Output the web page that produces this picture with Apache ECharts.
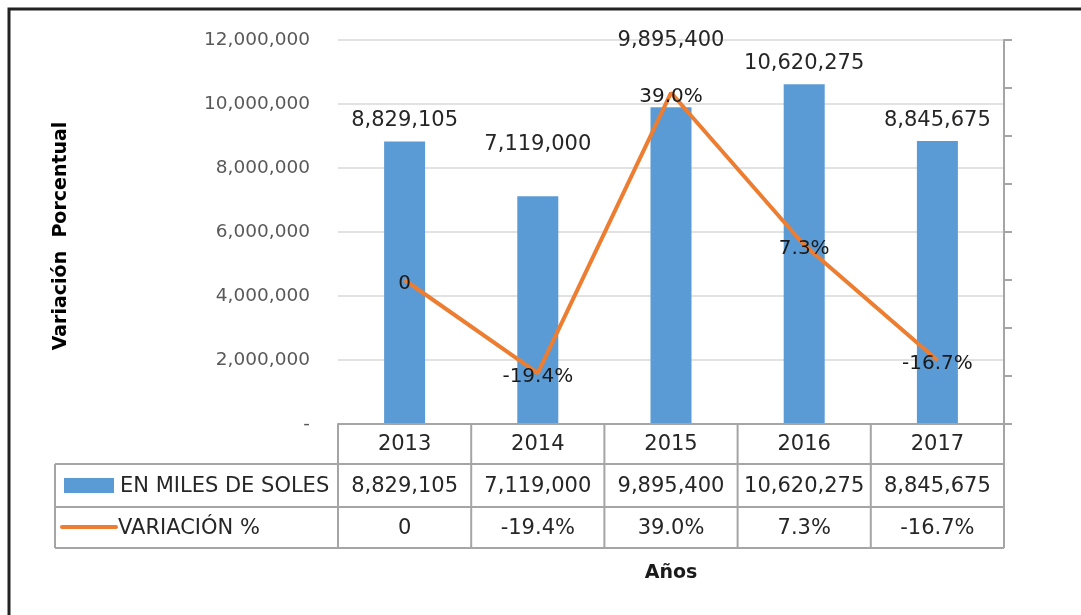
<!DOCTYPE html>
<html>
<head>
<meta charset="utf-8">
<title>Variación Porcentual</title>
<script src="https://cdn.jsdelivr.net/npm/echarts@6/dist/echarts.min.js"></script>
<style>
  html, body { margin: 0; padding: 0; background: #fff; }
  #main { width: 1081px; height: 615px; }
</style>
</head>
<body>
<div id="main"></div>
<script>
// datos
const years = ['2013', '2014', '2015', '2016', '2017']
const solesValues = [8829105, 7119000, 9895400, 10620275, 8845675]
const variationValues = [0, -19.4, 39.0, 7.3, -16.7]
const seriesNames = ['EN MILES DE SOLES', 'VARIACIÓN %']

const FONT = 'DejaVu Sans'
const BLUE = '#5B9BD5'
const ORANGE = '#ED7D31'
const BORDER = '#A5A5A5'
const TEXT = '#262626'

// etiquetas de barras movidas a mano en el original (2014 y 2015)
const barLabelLift = { 1: 31, 2: 46 }

const fmtNum = (v) => v.toLocaleString('en-US')
const fmtPct = (v) => (v === 0 ? '0' : v.toFixed(1) + '%')

const chart = echarts.init(document.getElementById('main'))

chart.setOption({
  animation: false,
  backgroundColor: '#fff',
  textStyle: { fontFamily: FONT },
  grid: { left: 338, right: 77, top: 40, bottom: 191 },
  xAxis: {
    type: 'category',
    data: years,
    axisLine: { onZero: false, lineStyle: { color: BORDER, width: 2 } },
    axisTick: { show: false },
    axisLabel: { show: false }
  },
  yAxis: [
    {
      type: 'value',
      min: 0,
      max: 12000000,
      interval: 2000000,
      axisLine: { show: false },
      axisTick: { show: false },
      axisLabel: {
        fontSize: 18.5,
        color: '#595959',
        margin: 28,
        formatter: (v) => (v === 0 ? '-' : fmtNum(v))
      },
      splitLine: { lineStyle: { color: '#D9D9D9', width: 1.5 } }
    },
    {
      type: 'value',
      min: -30,
      max: 50,
      interval: 10,
      position: 'right',
      axisLine: { show: true, lineStyle: { color: BORDER, width: 2 } },
      axisTick: { show: true, length: 8, lineStyle: { color: BORDER, width: 2 } },
      axisLabel: { show: false },
      splitLine: { show: false }
    }
  ],
  series: [
    {
      name: seriesNames[0],
      type: 'bar',
      data: solesValues.map((v, i) =>
        barLabelLift[i] ? { value: v, label: { offset: [0, -barLabelLift[i]] } } : v
      ),
      barWidth: 41,
      itemStyle: { color: BLUE },
      label: {
        show: true,
        position: 'top',
        distance: 10,
        fontSize: 21,
        color: TEXT,
        formatter: (p) => fmtNum(p.value)
      }
    },
    {
      name: seriesNames[1],
      type: 'line',
      yAxisIndex: 1,
      data: variationValues,
      symbol: 'circle',
      symbolSize: 1,
      showSymbol: true,
      z: 3,
      lineStyle: { color: ORANGE, width: 4 },
      itemStyle: { color: ORANGE },
      label: {
        show: true,
        position: 'inside',
        offset: [0, 4],
        fontSize: 20,
        color: '#1a1a1a',
        formatter: (p) => fmtPct(p.value)
      }
    }
  ]
})

// tabla de datos debajo del gráfico (columnas sacadas del eje x)
const centers = years.map((y, i) => chart.convertToPixel({ xAxisIndex: 0 }, i))
const band = centers[1] - centers[0]
const plotLeft = centers[0] - band / 2
const plotRight = centers[centers.length - 1] + band / 2
const rowTop = 424
const row1 = 464
const row2 = 507
const row3 = 548
const tableLeft = 55

const line = (x1, y1, x2, y2) => ({
  type: 'line',
  shape: { x1, y1, x2, y2 },
  style: { stroke: BORDER, lineWidth: 2 },
  z: 10
})
const cellText = (text, x, y, align) => ({
  type: 'text',
  x,
  y,
  style: { text, fontFamily: FONT, fontSize: 21, fill: TEXT, align: align || 'center', verticalAlign: 'middle' },
  z: 11
})

const elements = []
elements.push(line(plotLeft, rowTop, plotRight, rowTop))
elements.push(line(tableLeft, row1, plotRight, row1))
elements.push(line(tableLeft, row2, plotRight, row2))
elements.push(line(tableLeft, row3, plotRight, row3))
elements.push(line(tableLeft, row1, tableLeft, row3))
for (let i = 0; i <= years.length; i++) {
  const x = plotLeft + band * i
  elements.push(line(x, rowTop, x, row3))
}
years.forEach((y, i) => {
  elements.push(cellText(y, centers[i], (rowTop + row1) / 2 + 1))
  elements.push(cellText(fmtNum(solesValues[i]), centers[i], (row1 + row2) / 2 + 1))
  elements.push(cellText(fmtPct(variationValues[i]), centers[i], (row2 + row3) / 2 + 1))
})

// leyenda dentro de la tabla
elements.push({ type: 'rect', shape: { x: 64, y: 478, width: 50, height: 15 }, style: { fill: BLUE }, z: 11 })
elements.push({
  type: 'line',
  shape: { x1: 62, y1: 527, x2: 116, y2: 527 },
  style: { stroke: ORANGE, lineWidth: 4, lineCap: 'round' },
  z: 11
})
elements.push(cellText(seriesNames[0], 120, (row1 + row2) / 2 + 1, 'left'))
elements.push(cellText(seriesNames[1], 118, (row2 + row3) / 2 + 1, 'left'))

// títulos de ejes
elements.push({
  type: 'text',
  x: 61,
  y: 236,
  rotation: Math.PI / 2,
  style: { text: 'Variación  Porcentual', fontFamily: FONT, fontSize: 19, fontWeight: 'bold', fill: '#000', align: 'center', verticalAlign: 'middle' }
})
elements.push({
  type: 'text',
  x: (plotLeft + plotRight) / 2,
  y: 573,
  style: { text: 'Años', fontFamily: FONT, fontSize: 19, fontWeight: 'bold', fill: '#1a1a1a', align: 'center', verticalAlign: 'middle' }
})

// marco exterior
elements.push({
  type: 'rect',
  shape: { x: 9, y: 9, width: 1200, height: 800 },
  style: { fill: 'none', stroke: '#222', lineWidth: 3 },
  z: 20
})

chart.setOption({ graphic: { elements } })
</script>
</body>
</html>
